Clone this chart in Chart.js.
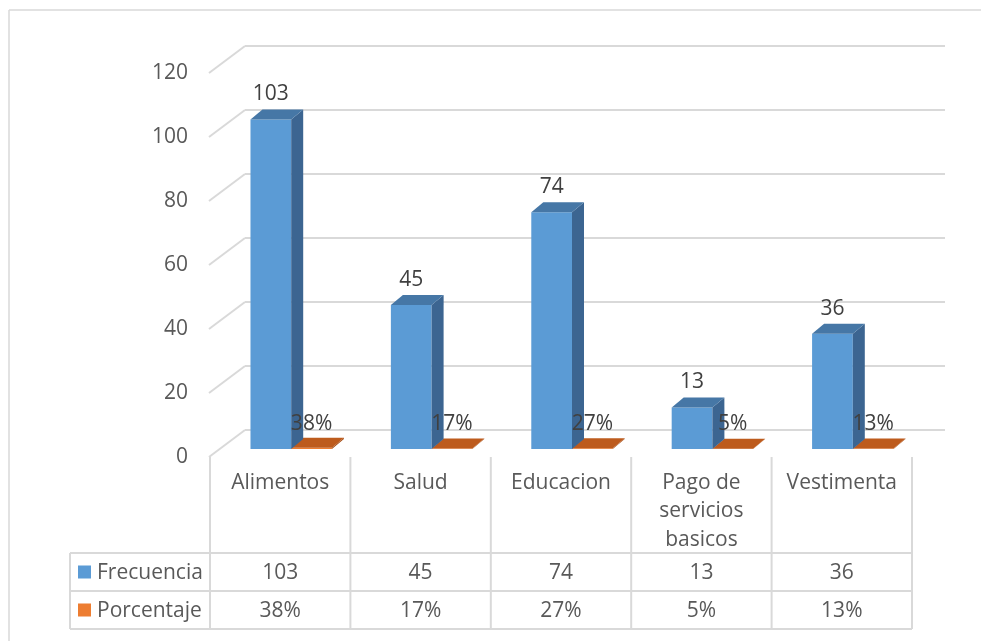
<!DOCTYPE html>
<html>
<head>
<meta charset="utf-8">
<script src="https://cdn.jsdelivr.net/npm/chart.js@4.4.1/dist/chart.umd.min.js"></script>
<style>
  html, body { margin: 0; padding: 0; background: #fff; }
  #wrap { width: 981px; height: 641px; position: relative; }
</style>
</head>
<body>
<div id="wrap"><canvas id="chart"></canvas></div>
<script>
const categories = ["Alimentos", "Salud", "Educacion", "Pago de servicios basicos", "Vestimenta"];
const categoryLines = [["Alimentos"], ["Salud"], ["Educacion"], ["Pago de", "servicios", "basicos"], ["Vestimenta"]];
const frecuencia = [103, 45, 74, 13, 36];
const porcentaje = [0.38, 0.17, 0.27, 0.05, 0.13];
const porcentajeLabels = ["38%", "17%", "27%", "5%", "13%"];
const yTicks = [0, 20, 40, 60, 80, 100, 120];

const FONT = "21px 'Open Sans', sans-serif";
const GRID = "#d9d9d9";
const TEXT = "#595959";

// offsets of the pseudo 3d planes, relative to the bar front plane
const FRONT_DX = -11, FRONT_DY = 8;
const BACK_DX = 24, BACK_DY = -19;
const DEPTH_DX = 12, DEPTH_DY = -10;

const faces = [
  { side: "#3c6591", top: "#4677a6" },
  { side: "#a34a12", top: "#bd5b1d" },
];

function line(ctx, x1, y1, x2, y2) {
  ctx.beginPath();
  ctx.moveTo(x1, y1);
  ctx.lineTo(x2, y2);
  ctx.stroke();
}

const pseudo3d = {
  id: "pseudo3d",
  beforeDraw(chart) {
    const ctx = chart.ctx;
    const y = chart.scales.y;
    const area = chart.chartArea;
    ctx.save();
    // outer frame
    ctx.strokeStyle = GRID;
    ctx.lineWidth = 1.5;
    line(ctx, 9, 10, 990, 10);
    line(ctx, 9, 10, 9, 650);
    // wall gridlines + diagonals
    ctx.lineWidth = 2;
    yTicks.forEach((v) => {
      const py = y.getPixelForValue(v);
      line(ctx, area.left + FRONT_DX - 1, py + FRONT_DY, area.left + BACK_DX, py + BACK_DY);
      line(ctx, area.left + BACK_DX, py + BACK_DY, area.right + 22, py + BACK_DY);
    });
    // y tick labels
    ctx.fillStyle = TEXT;
    ctx.font = FONT;
    ctx.textAlign = "right";
    ctx.textBaseline = "middle";
    yTicks.forEach((v) => {
      ctx.fillText(String(v), 188, y.getPixelForValue(v) + FRONT_DY);
    });
    ctx.restore();
  },
  afterDatasetDraw(chart, args) {
    const ctx = chart.ctx;
    const f = faces[args.index];
    ctx.save();
    args.meta.data.forEach((bar) => {
      const l = bar.x - bar.width / 2;
      const r = bar.x + bar.width / 2;
      const t = bar.y;
      const b = bar.base;
      // side face
      ctx.fillStyle = f.side;
      ctx.beginPath();
      ctx.moveTo(r, t);
      ctx.lineTo(r + DEPTH_DX, t + DEPTH_DY);
      ctx.lineTo(r + DEPTH_DX, b + DEPTH_DY);
      ctx.lineTo(r, b);
      ctx.closePath();
      ctx.fill();
      // top face
      ctx.fillStyle = f.top;
      ctx.beginPath();
      ctx.moveTo(l, t);
      ctx.lineTo(l + DEPTH_DX, t + DEPTH_DY);
      ctx.lineTo(r + DEPTH_DX, t + DEPTH_DY);
      ctx.lineTo(r, t);
      ctx.closePath();
      ctx.fill();
    });
    ctx.restore();
  },
  afterDraw(chart) {
    const ctx = chart.ctx;
    const x = chart.scales.x;
    const area = chart.chartArea;
    const step = x.getPixelForValue(1) - x.getPixelForValue(0);
    ctx.save();
    ctx.font = FONT;
    ctx.textAlign = "center";
    ctx.textBaseline = "middle";
    ctx.fillStyle = "#404040";
    // data labels
    chart.getDatasetMeta(0).data.forEach((bar, i) => {
      ctx.fillText(String(frecuencia[i]), bar.x, bar.y - 25);
    });
    chart.getDatasetMeta(1).data.forEach((bar, i) => {
      ctx.fillText(porcentajeLabels[i], bar.x, bar.base - 25);
    });

    // data table
    const left = area.left + FRONT_DX;
    const right = left + step * categories.length;
    const floorY = area.bottom + FRONT_DY;
    const rowTop = 553, rowMid = 591, rowBot = 629, tableLeft = 70;
    ctx.strokeStyle = GRID;
    ctx.lineWidth = 2;
    for (let i = 0; i <= categories.length; i++) {
      line(ctx, left + i * step, floorY, left + i * step, rowBot);
    }
    line(ctx, tableLeft, rowTop, right, rowTop);
    line(ctx, tableLeft, rowMid, right, rowMid);
    line(ctx, tableLeft, rowBot, right, rowBot);
    line(ctx, tableLeft, rowTop, tableLeft, rowBot);

    ctx.fillStyle = TEXT;
    categoryLines.forEach((lines, i) => {
      const cx = x.getPixelForValue(i) + FRONT_DX;
      lines.forEach((s, k) => ctx.fillText(s, cx, 483 + k * 28.5));
      ctx.fillText(String(frecuencia[i]), cx, (rowTop + rowMid) / 2 + 1);
      ctx.fillText(porcentajeLabels[i], cx, (rowMid + rowBot) / 2 + 1);
    });

    // legend keys in table
    const rows = [
      { name: "Frecuencia", color: "#5b9bd5", cy: (rowTop + rowMid) / 2 },
      { name: "Porcentaje", color: "#ed7d31", cy: (rowMid + rowBot) / 2 },
    ];
    ctx.textAlign = "left";
    rows.forEach((r) => {
      ctx.fillStyle = r.color;
      ctx.fillRect(78, r.cy - 6.5, 13, 13);
      ctx.fillStyle = TEXT;
      ctx.fillText(r.name, 97, r.cy + 1);
    });
    ctx.restore();
  },
};

new Chart(document.getElementById("chart"), {
  type: "bar",
  data: {
    labels: categories,
    datasets: [
      {
        label: "Frecuencia",
        data: frecuencia,
        backgroundColor: "#5b9bd5",
        categoryPercentage: 0.58,
        barPercentage: 1.0,
      },
      {
        label: "Porcentaje",
        data: porcentaje,
        backgroundColor: "#ed7d31",
        categoryPercentage: 0.58,
        barPercentage: 1.0,
      },
    ],
  },
  options: {
    responsive: true,
    maintainAspectRatio: false,
    animation: false,
    layout: { padding: { left: 221, right: 58, top: 65, bottom: 192 } },
    plugins: {
      legend: { display: false },
      tooltip: { enabled: false },
    },
    scales: {
      x: { display: false },
      y: { display: false, min: 0, max: 120 },
    },
  },
  plugins: [pseudo3d],
});
</script>
</body>
</html>
